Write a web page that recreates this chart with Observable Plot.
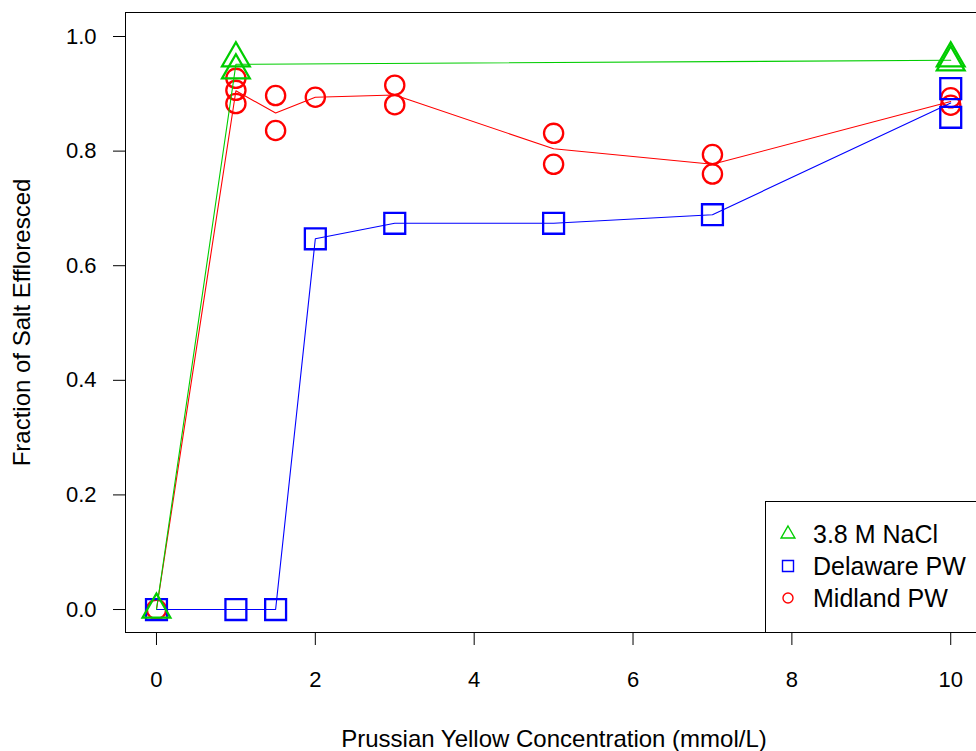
<!DOCTYPE html>
<html><head><meta charset="utf-8">
<script src="https://cdn.jsdelivr.net/npm/d3@7"></script>
<script src="https://cdn.jsdelivr.net/npm/@observablehq/plot@0.6"></script>
<style>
html,body{margin:0;padding:0;background:#fff;overflow:hidden;}
#wrap{position:relative;width:976px;height:751px;overflow:hidden;font-family:"Liberation Sans",Arial,sans-serif;}
#wrap > svg{max-width:none !important;width:990px;height:751px;display:block;}
#legend{position:absolute;left:765px;top:501px;width:240px;height:130px;border:1px solid #000;background:#fff;}
.lrow{position:absolute;left:0;height:32px;width:240px;}
.lrow svg{position:absolute;left:10px;top:4px;}
.lrow span{position:absolute;left:47px;top:0;line-height:32px;font-size:25px;color:#000;white-space:nowrap;}
</style></head>
<body><div id="wrap"></div>
<script>
// Series
const seriesNames = ["3.8 M NaCl", "Delaware PW", "Midland PW"];
const seriesColors = ["#00CD00", "#0000FF", "#FF0000"];
// 3.8 M NaCl
const naclX = [0, 1, 1, 10, 10];
const naclY = [0, 0.962, 0.941, 0.962, 0.955];
// Delaware PW
const delawareX = [0, 1, 1.5, 2, 3, 5, 7, 10, 10];
const delawareY = [0, 0, 0, 0.647, 0.674, 0.674, 0.689, 0.909, 0.859];
// Midland PW
const midlandX = [0, 1, 1, 1, 1.5, 1.5, 2, 3, 3, 5, 5, 7, 7, 10, 10];
const midlandY = [0, 0.927, 0.906, 0.883, 0.897, 0.836, 0.894, 0.915, 0.881, 0.831, 0.777, 0.794, 0.760, 0.893, 0.880];
// Ticks
const xTicks = [0, 2, 4, 6, 8, 10];
const yTicks = [0, 0.2, 0.4, 0.6, 0.8, 1.0];
const xLabel = "Prussian Yellow Concentration (mmol/L)";
const yLabel = "Fraction of Salt Effloresced";

const mk = (xs, ys, s) => xs.map((x, i) => ({series: s, x, y: ys[i]}));
const nacl = mk(naclX, naclY, seriesNames[0]);
const delaware = mk(delawareX, delawareY, seriesNames[1]);
const midland = mk(midlandX, midlandY, seriesNames[2]);

const lineOpts = {x: "x", y: "y", stroke: "series", z: "series", strokeWidth: 1.1};
const dotOpts = {x: "x", y: "y", stroke: "series", fill: "none", strokeWidth: 2.3};

const chart = Plot.plot({
  width: 990, height: 751,
  marginLeft: 125, marginRight: 8, marginTop: 12, marginBottom: 119,
  x: {domain: [-0.39, 10.4]},
  y: {domain: [-0.0401, 1.0419]},
  color: {domain: seriesNames, range: seriesColors},
  style: {fontFamily: "'Liberation Sans', Arial, sans-serif", fontSize: "22px", color: "#000", background: "#fff"},
  marks: [
    Plot.axisX({ticks: xTicks, tickSize: 13, tickPadding: 26, fontSize: 22, label: null}),
    Plot.axisY({ticks: yTicks, tickSize: 12, tickPadding: 17, fontSize: 22, tickFormat: d3.format(".1f"), label: null}),
    Plot.text([xLabel], {text: d => d, frameAnchor: "bottom", dy: 107, fontSize: 24, lineAnchor: "middle", textAnchor: "middle"}),
    Plot.text([yLabel], {text: d => d, frameAnchor: "left", dx: -103, rotate: -90, fontSize: 24, lineAnchor: "middle", textAnchor: "middle"}),
    Plot.frame({stroke: "#000", strokeWidth: 1}),
    Plot.line(midland, Plot.groupX({y: "mean"}, lineOpts)),
    Plot.dot(midland, {...dotOpts, symbol: "circle", r: 9.6}),
    Plot.line(delaware, Plot.groupX({y: "mean"}, lineOpts)),
    Plot.dot(delaware, {...dotOpts, symbol: "square", r: 11.8}),
    Plot.line(nacl, Plot.groupX({y: "mean"}, lineOpts)),
    Plot.dot(nacl, {...dotOpts, symbol: "triangle", r: 10.3})
  ]
});
chart.style.maxWidth = "none";
document.getElementById("wrap").appendChild(chart);

// Legend
const legendSymbols = [d3.symbolTriangle, d3.symbolSquare, d3.symbolCircle];
const legendSizes = [83, 121, 79];
const legend = d3.select("#wrap").append("div").attr("id", "legend");
seriesNames.forEach((name, i) => {
  const row = legend.append("div").attr("class", "lrow").style("top", (16 + i * 32) + "px");
  const svg = row.append("svg").attr("width", 24).attr("height", 24);
  svg.append("path")
    .attr("transform", "translate(12,12)")
    .attr("d", d3.symbol(legendSymbols[i], legendSizes[i])())
    .attr("fill", "none")
    .attr("stroke", seriesColors[i])
    .attr("stroke-width", 1.4);
  row.append("span").text(name);
});
</script>
</body></html>
